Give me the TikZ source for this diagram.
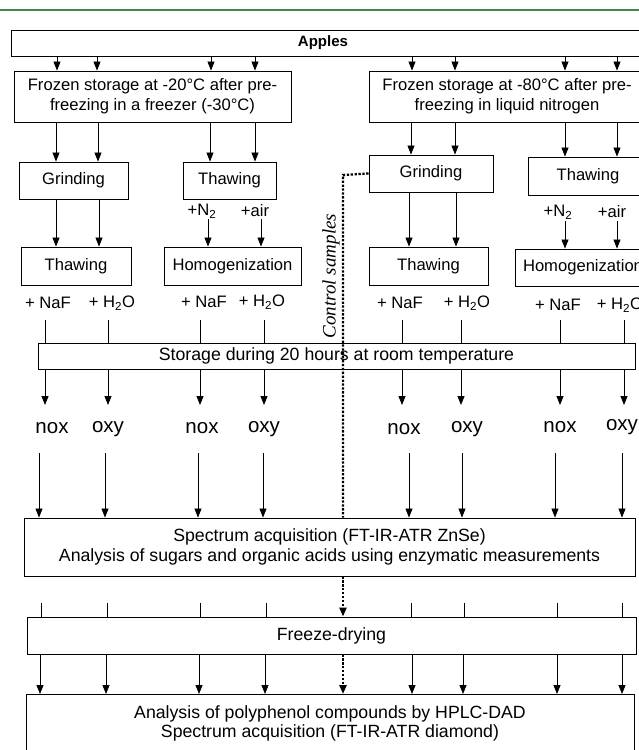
\documentclass[tikz,border=0pt]{standalone}
\usepackage{fontspec}
\setmainfont{Liberation Sans}
\newfontfamily\serifit{Liberation Serif}
\usetikzlibrary{arrows.meta}
\newcommand\fs{\fontsize{16.6}{20}\selectfont}
\newcommand\fsl{\fontsize{17.7}{19.5}\selectfont}
\newcommand\fsbig{\fontsize{20.5}{22}\selectfont}
\definecolor{topgreen}{RGB}{70,135,80}
\begin{document}
\begin{tikzpicture}[x=1pt,y=-1pt,
  box/.style={draw, line width=0.9pt, inner sep=0pt, align=center, font=\fs},
  lbox/.style={box, font=\fsl},
  lbl/.style={inner sep=0pt, font=\fs},
  big/.style={inner sep=0pt, font=\fsbig},
  arr/.style={line width=0.8pt, -{Triangle[width=7pt,length=9pt]}},
  ln/.style={line width=0.8pt},
  dotline/.style={line width=2.3pt, dash pattern=on 2.3pt off 1.6pt}]
\useasboundingbox (0,0) rectangle (639,750);
\clip (0,0) rectangle (639,750);
\fill[white] (0,0) rectangle (639,750);
% top rule
\coordinate (gl) at (0,10);
\coordinate (gr) at (639,10);
\draw[topgreen, line width=1.6pt] (gl) -- (gr);
% boxes
\node[box, minimum width=640pt, minimum height=26pt] (apples) at (331,43) {};
\node[inner sep=0pt, font=\fontsize{15}{16}\selectfont\bfseries] (applestxt) at (323,43) {Apples};
\node[box, minimum width=277pt, minimum height=51pt] (frozen1) at (152.5,96.5) {Frozen storage at -20°C after pre-\\freezing in a freezer (-30°C)};
\node[box, minimum width=276pt, minimum height=51pt] (frozen2) at (507,96.5) {Frozen storage at -80°C after pre-\\freezing in liquid nitrogen};
\node[box, minimum width=109pt, minimum height=37pt] (grind1) at (73.5,180.5) {Grinding};
\node[box, minimum width=93pt, minimum height=37pt] (thaw1b) at (229.5,180.5) {Thawing};
\node[box, minimum width=110pt, minimum height=38pt] (thaw1) at (76,266) {Thawing};
\node[box, minimum width=137pt, minimum height=38pt] (homog1) at (232.5,266) {Homogenization};
\node[box, minimum width=124pt, minimum height=37pt] (grind2) at (431,173.5) {Grinding};
\node[box, minimum width=120pt, minimum height=38pt] (thaw2) at (588,176) {Thawing};
\node[box, minimum width=119pt, minimum height=38pt] (thaw3) at (428.5,266) {Thawing};
\node[box, minimum width=136pt, minimum height=37pt] (homog2) at (583,267.5) {Homogenization};
\node[lbox, minimum width=597pt, minimum height=26pt] (storage) at (336.5,356) {Storage during 20 hours at room temperature};
\node[lbox, minimum width=611pt, minimum height=58pt] (spectrum) at (329.5,547) {Spectrum acquisition (FT-IR-ATR ZnSe)\\Analysis of sugars and organic acids using enzymatic measurements};
\node[lbox, minimum width=609pt, minimum height=37pt] (freeze) at (331.5,635.5) {Freeze-drying};
\node[box, minimum width=608pt, minimum height=100pt, anchor=north] (analysis) at (330,694) {};
\node[lbl, font=\fsl, align=center] (analysistxt) at (330,723.5) {Analysis of polyphenol compounds by HPLC-DAD\\Spectrum acquisition (FT-IR-ATR diamond)};
% labels
\node[lbl] (n2a) at (202,211) {+N\textsubscript{2}};
\node[lbl] (aira) at (255,211) {+air};
\node[lbl] (n2b) at (558,212) {+N\textsubscript{2}};
\node[lbl] (airb) at (612,212) {+air};
\node[lbl] (naf1) at (48,303) {+ NaF};
\node[lbl] (hoh1) at (112,303) {+ H\textsubscript{2}O};
\node[lbl] (naf2) at (204,302) {+ NaF};
\node[lbl] (hoh2) at (262,302) {+ H\textsubscript{2}O};
\node[lbl] (naf3) at (400,303) {+ NaF};
\node[lbl] (hoh3) at (467,303) {+ H\textsubscript{2}O};
\node[lbl] (naf4) at (558,305) {+ NaF};
\node[lbl] (hoh4) at (620,305) {+ H\textsubscript{2}O};
\node[big] (s1) at (52,428) {nox};
\node[big] (s2) at (108,429) {oxy};
\node[big] (s3) at (202,428) {nox};
\node[big] (s4) at (264,429) {oxy};
\node[big] (s5) at (404,429) {nox};
\node[big] (s6) at (467,429) {oxy};
\node[big] (s7) at (560,427) {nox};
\node[big] (s8) at (622,427) {oxy};
\node[inner sep=0pt, rotate=90, font=\serifit\itshape\fontsize{19}{21}\selectfont] (ctrl) at (331,276) {Control samples};
% connectors
\foreach \x in {57,97,211,255} \draw[arr] (\x,0 |- apples.south) -- (\x,0 |- frozen1.north);
\foreach \x in {412,455,565,617} \draw[arr] (\x,0 |- apples.south) -- (\x,0 |- frozen2.north);
\foreach \x in {56,98} \draw[arr] (\x,0 |- frozen1.south) -- (\x,0 |- grind1.north);
\foreach \x in {210,255} \draw[arr] (\x,0 |- frozen1.south) -- (\x,0 |- thaw1b.north);
\foreach \x in {56,99} \draw[arr] (\x,0 |- grind1.south) -- (\x,0 |- thaw1.north);
\foreach \x in {208,261} \draw[arr] (\x,219) -- (\x,0 |- homog1.north);
\foreach \x in {411,455} \draw[arr] (\x,0 |- frozen2.south) -- (\x,0 |- grind2.north);
\foreach \x in {565,617} \draw[arr] (\x,0 |- frozen2.south) -- (\x,0 |- thaw2.north);
\foreach \x in {409,456} \draw[arr] (\x,0 |- grind2.south) -- (\x,0 |- thaw3.north);
\foreach \x in {565,617} \draw[arr] (\x,221) -- (\x,0 |- homog2.north);
\foreach \x in {45,108,200,264,402,461,560,624} \draw[ln] (\x,320) -- (\x,0 |- storage.north);
\foreach \x in {45,108,200,264,402,461,560,624} \draw[arr] (\x,0 |- storage.south) -- (\x,405);
\foreach \x in {39,105,198,263,409,462,555,622} \draw[arr] (\x,453) -- (\x,0 |- spectrum.north);
\foreach \x in {41,107,200,266,411,464,557,622} \draw[ln] (\x,603) -- (\x,0 |- freeze.north);
\foreach \x in {40,106,199,265,412,463,557,622} \draw[arr] (\x,0 |- freeze.south) -- (\x,0 |- analysis.north);
% control samples dotted path
\coordinate (dcorner) at (343,175);
\draw[dotline] (grind2.west) -- (dcorner) -- (dcorner |- spectrum.north);
\draw[dotline, -{Triangle[width=7pt,length=9pt]}] (dcorner |- spectrum.south) -- (dcorner |- freeze.north);
\draw[dotline, -{Triangle[width=7pt,length=9pt]}] (dcorner |- freeze.south) -- (dcorner |- analysis.north);
\end{tikzpicture}
\end{document}
